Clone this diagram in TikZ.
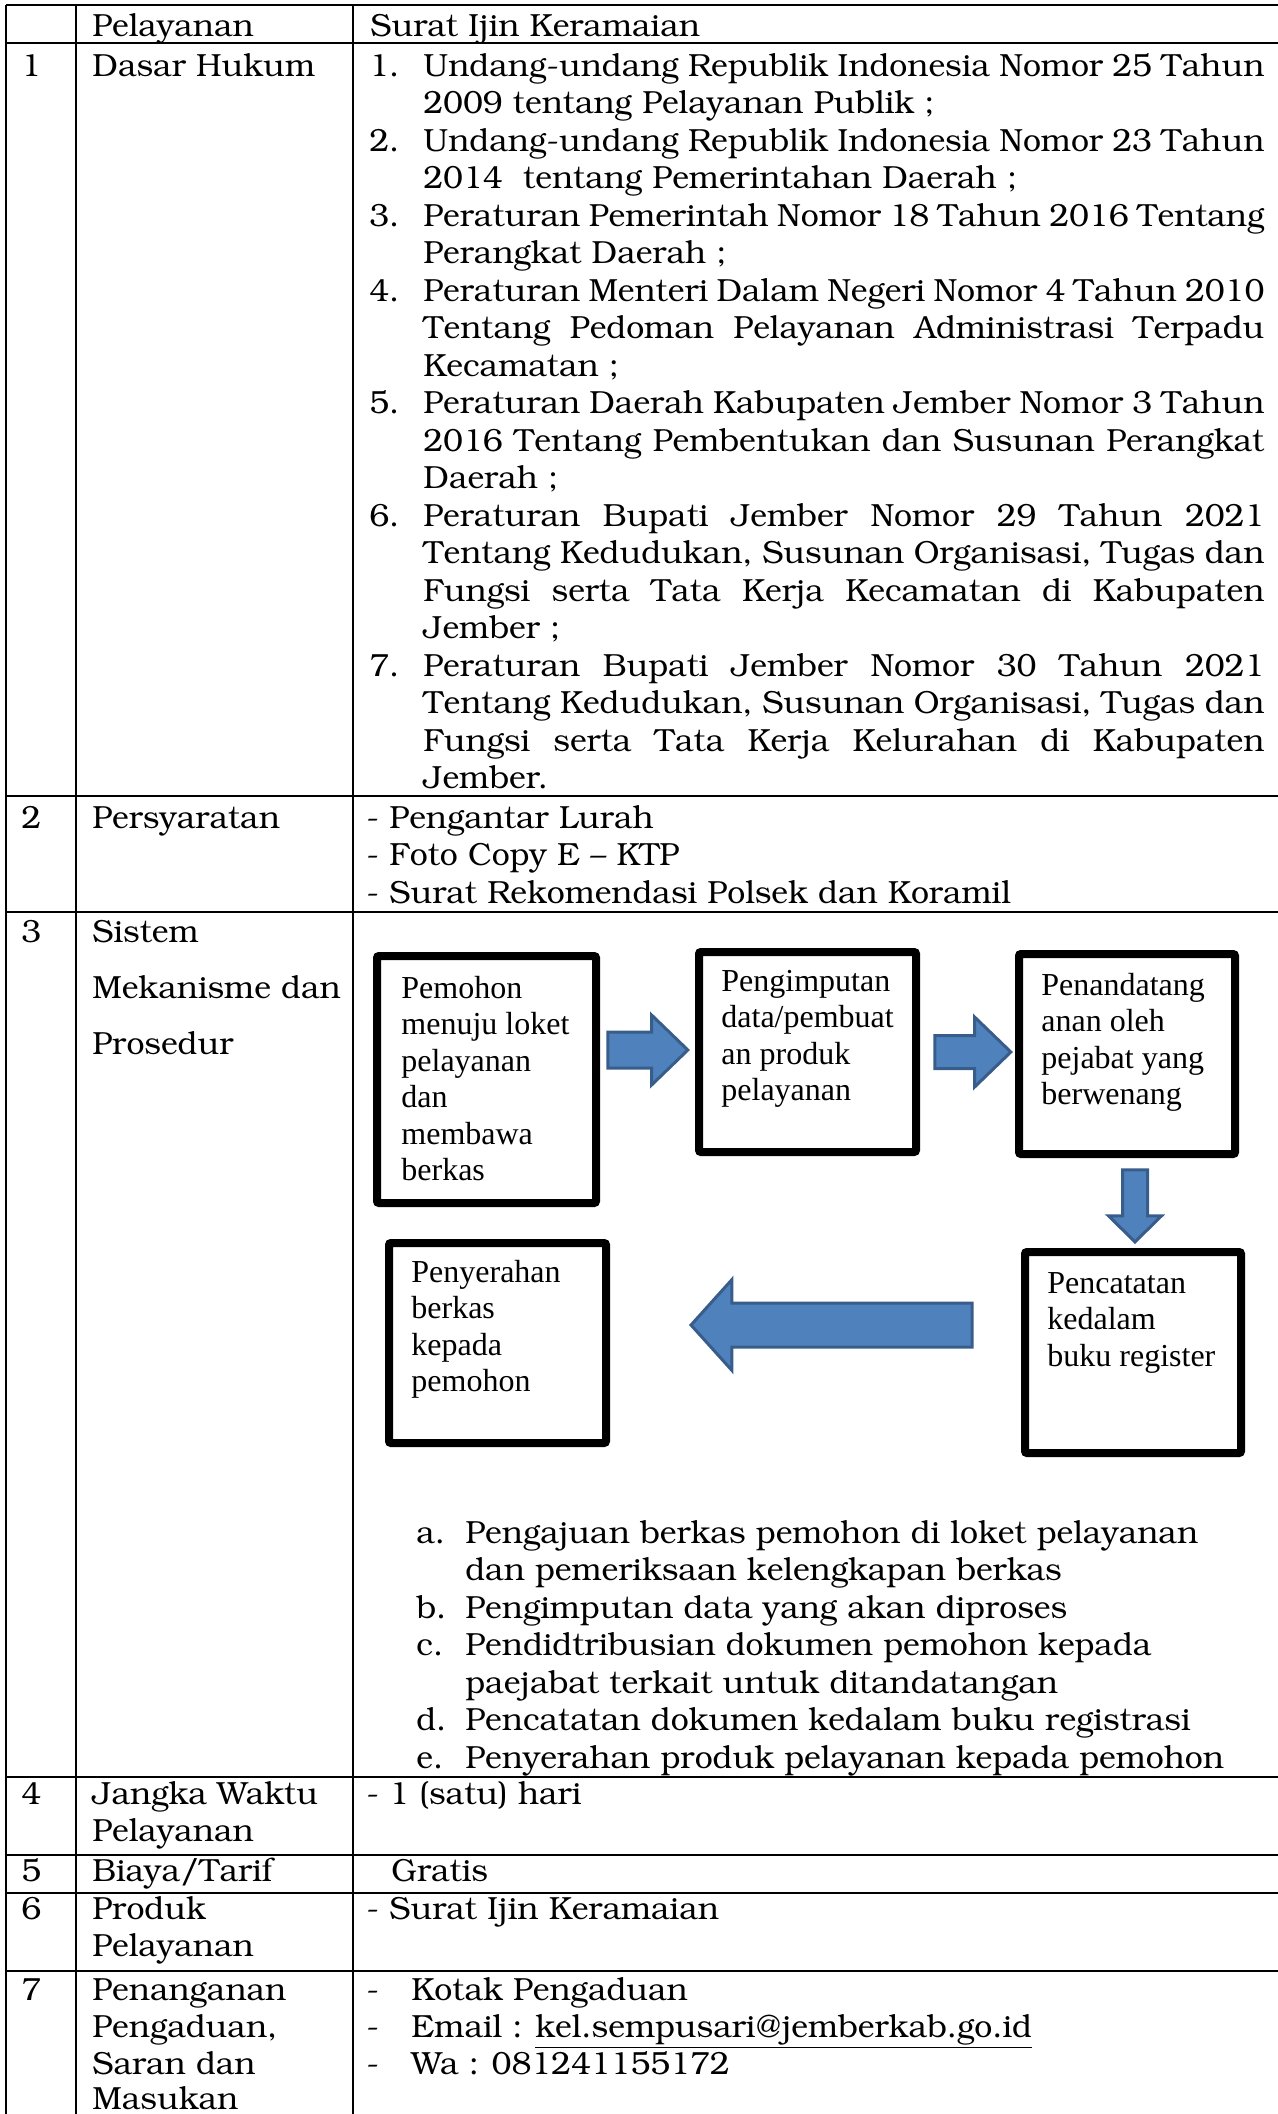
\documentclass[tikz,border=0pt]{standalone}
\usepackage[T1]{fontenc}
\usepackage{fontspec}
\usetikzlibrary{shapes.arrows}
\newfontfamily\tnr{Liberation Serif}
\newcommand{\bk}{\fontencoding{T1}\fontfamily{pbk}\fontseries{m}\fontshape{n}\fontsize{16}{18.75}\selectfont}
\newcommand{\jline}[1]{\makebox[420.5pt][s]{#1}}
\definecolor{arrowfill}{HTML}{4F81BD}
\definecolor{arrowline}{HTML}{385D8A}
\tikzset{
  cell/.style={anchor=base west, inner sep=0pt, font=\bk},
  flowbox/.style={draw=black, line width=4pt, rounded corners=1pt, fill=white},
  flowtext/.style={anchor=north west, inner sep=0pt, align=left, font=\tnr\fontsize{16}{18.25}\selectfont},
  blockarrow/.style={single arrow, anchor=tip, fill=arrowfill, draw=arrowline, line width=1.5pt, inner xsep=0pt},
}
\begin{document}
\begin{tikzpicture}[x=0.5pt, y=-0.5pt]

\def\RULECOLOR{black}
\def\RULEWIDTH{1.25pt}
	\useasboundingbox (0,0) rectangle (1278,2114);
	\draw[\RULECOLOR, line width=\RULEWIDTH] (6,5) -- (1278,5);
	\draw[\RULECOLOR, line width=\RULEWIDTH] (6,43) -- (1278,43);
	\draw[\RULECOLOR, line width=\RULEWIDTH] (6,796) -- (1278,796);
	\draw[\RULECOLOR, line width=\RULEWIDTH] (6,912) -- (1278,912);
	\draw[\RULECOLOR, line width=\RULEWIDTH] (6,1777) -- (1278,1777);
	\draw[\RULECOLOR, line width=\RULEWIDTH] (6,1855) -- (1278,1855);
	\draw[\RULECOLOR, line width=\RULEWIDTH] (6,1893) -- (1278,1893);
	\draw[\RULECOLOR, line width=\RULEWIDTH] (6,1971) -- (1278,1971);
	\draw[\RULECOLOR, line width=\RULEWIDTH] (6,5) -- (6,2114);
	\draw[\RULECOLOR, line width=\RULEWIDTH] (76,5) -- (76,2114);
	\draw[\RULECOLOR, line width=\RULEWIDTH] (353,5) -- (353,2114);

	\node[cell] (h1) at (92,37) {Pelayanan};
	\node[cell] (h2) at (370,37) {Surat Ijin Keramaian};

	\node[cell] (n1) at (21,76) {1};
	\node[cell] (k1) at (92,76) {Dasar Hukum};
	\node[cell] (dn1) at (369,76) {1.};
	\node[cell] (d1) at (423,76) {\jline{Undang-undang Republik Indonesia Nomor 25 Tahun}};
	\node[cell] (d2) at (423,113.5) {2009 tentang Pelayanan Publik ;};
	\node[cell] (dn2) at (369,151) {2.};
	\node[cell] (d3) at (423,151) {\jline{Undang-undang Republik Indonesia Nomor 23 Tahun}};
	\node[cell] (d4) at (423,188.5) {2014\ \ tentang Pemerintahan Daerah ;};
	\node[cell] (dn3) at (369,226) {3.};
	\node[cell] (d5) at (423,226) {\jline{Peraturan Pemerintah Nomor 18 Tahun 2016 Tentang}};
	\node[cell] (d6) at (423,263.5) {Perangkat Daerah ;};
	\node[cell] (dn4) at (369,301) {4.};
	\node[cell] (d7) at (423,301) {\jline{Peraturan Menteri Dalam Negeri Nomor 4 Tahun 2010}};
	\node[cell] (d8) at (423,338.5) {\jline{Tentang Pedoman Pelayanan Administrasi Terpadu}};
	\node[cell] (d9) at (423,376) {Kecamatan ;};
	\node[cell] (dn5) at (369,413.5) {5.};
	\node[cell] (d10) at (423,413.5) {\jline{Peraturan Daerah Kabupaten Jember Nomor 3 Tahun}};
	\node[cell] (d11) at (423,451) {\jline{2016 Tentang Pembentukan dan Susunan Perangkat}};
	\node[cell] (d12) at (423,488.5) {Daerah ;};
	\node[cell] (dn6) at (369,526) {6.};
	\node[cell] (d13) at (423,526) {\jline{Peraturan Bupati Jember Nomor 29 Tahun 2021}};
	\node[cell] (d14) at (423,563.5) {\jline{Tentang Kedudukan, Susunan Organisasi, Tugas dan}};
	\node[cell] (d15) at (423,601) {\jline{Fungsi serta Tata Kerja Kecamatan di Kabupaten}};
	\node[cell] (d16) at (423,638.5) {Jember ;};
	\node[cell] (dn7) at (369,676) {7.};
	\node[cell] (d17) at (423,676) {\jline{Peraturan Bupati Jember Nomor 30 Tahun 2021}};
	\node[cell] (d18) at (423,713.5) {\jline{Tentang Kedudukan, Susunan Organisasi, Tugas dan}};
	\node[cell] (d19) at (423,751) {\jline{Fungsi serta Tata Kerja Kelurahan di Kabupaten}};
	\node[cell] (d20) at (423,788.5) {Jember.};

	\node[cell] (n2) at (21,828) {2};
	\node[cell] (k2) at (92,828) {Persyaratan};
	\node[cell] (p1) at (366,828) {- Pengantar Lurah};
	\node[cell] (p2) at (366,865.5) {- Foto Copy E -- KTP};
	\node[cell] (p3) at (366,903) {- Surat Rekomendasi Polsek dan Koramil};

	\node[cell] (n3) at (21,942) {3};
	\node[cell] (k3a) at (92,942) {Sistem};
	\node[cell] (k3b) at (92,998) {Mekanisme dan};
	\node[cell] (k3c) at (92,1054) {Prosedur};

	\node[flowbox, minimum width=109.5pt, minimum height=123.5pt] (b1) at (486.5,1079.5) {};
	\node[flowbox, minimum width=108.5pt, minimum height=100pt] (b2) at (807.5,1052) {};
	\node[flowbox, minimum width=108pt, minimum height=100pt] (b3) at (1127,1054) {};
	\node[flowbox, minimum width=108pt, minimum height=100.5pt] (b4) at (1133,1352.5) {};
	\node[flowbox, minimum width=108.5pt, minimum height=100pt] (b5) at (497.5,1343) {};
	\node[flowtext] (t1) at (401,972.5) {\strut Pemohon\\menuju loket\\pelayanan\\dan\\membawa\\berkas};
	\node[flowtext] (t2) at (721,965.5) {\strut Pengimputan\\data/pembuat\\an produk\\pelayanan};
	\node[flowtext] (t3) at (1041,969.5) {\strut Penandatang\\anan oleh\\pejabat yang\\berwenang};
	\node[flowtext] (t4) at (1047,1267.5) {\strut Pencatatan\\kedalam\\buku register};
	\node[flowtext] (t5) at (411,1256.5) {\strut Penyerahan\\berkas\\kepada\\pemohon};

	\node[blockarrow, minimum height=40pt, minimum width=33.5pt, inner ysep=8.25pt, single arrow head extend=8.5pt, single arrow tip angle=88] (arr1) at (690,1050) {};
	\node[blockarrow, minimum height=38pt, minimum width=33.5pt, inner ysep=7.5pt, single arrow head extend=9.25pt, single arrow tip angle=88] (arr2) at (1013,1052) {};
	\node[blockarrow, rotate=-90, minimum height=36pt, minimum width=25pt, inner ysep=5.5pt, single arrow head extend=7pt, single arrow tip angle=91] (arr3) at (1135,1244) {};
	\node[blockarrow, rotate=180, minimum height=140.5pt, minimum width=44pt, inner ysep=10.25pt, single arrow head extend=11.75pt, single arrow tip angle=96] (arr4) at (689,1325) {};

	\node[cell] (la) at (416,1543) {a.};
	\node[cell] (ma) at (465,1543) {Pengajuan berkas pemohon di loket pelayanan};
	\node[cell] (ma2) at (465,1580.5) {dan pemeriksaan kelengkapan berkas};
	\node[cell] (lb) at (416,1618) {b.};
	\node[cell] (mb) at (465,1618) {Pengimputan data yang akan diproses};
	\node[cell] (lc) at (416,1655.5) {c.};
	\node[cell] (mc) at (465,1655.5) {Pendidtribusian dokumen pemohon kepada};
	\node[cell] (mc2) at (465,1693) {paejabat terkait untuk ditandatangan};
	\node[cell] (ld) at (416,1730.5) {d.};
	\node[cell] (md) at (465,1730.5) {Pencatatan dokumen kedalam buku registrasi};
	\node[cell] (le) at (416,1768) {e.};
	\node[cell] (me) at (465,1768) {Penyerahan produk pelayanan kepada pemohon};

	\node[cell] (n4) at (21,1804) {4};
	\node[cell] (k4a) at (92,1804) {Jangka Waktu};
	\node[cell] (k4b) at (92,1841) {Pelayanan};
	\node[cell] (v4) at (366,1804) {- 1 (satu) hari};

	\node[cell] (n5) at (21,1881) {5};
	\node[cell] (k5) at (92,1881) {Biaya/Tarif};
	\node[cell] (v5) at (391,1881) {Gratis};

	\node[cell] (n6) at (21,1919) {6};
	\node[cell] (k6a) at (92,1919) {Produk};
	\node[cell] (k6b) at (92,1956) {Pelayanan};
	\node[cell] (v6) at (366,1919) {- Surat Ijin Keramaian};

	\node[cell] (n7) at (21,2000) {7};
	\node[cell] (k7a) at (92,2000) {Penanganan};
	\node[cell] (k7b) at (92,2037) {Pengaduan,};
	\node[cell] (k7c) at (92,2074) {Saran dan};
	\node[cell] (k7d) at (92,2109) {Masukan};
	\node[cell] (q1) at (366,2000) {-};
	\node[cell] (r1) at (411,2000) {Kotak Pengaduan};
	\node[cell] (q2) at (366,2037) {-};
	\node[cell] (r2) at (411,2037) {Email : \underline{kel.sempusari@jemberkab.go.id}};
	\node[cell] (q3) at (366,2074) {-};
	\node[cell] (r3) at (411,2074) {Wa : 081241155172};

          \end{tikzpicture}
\end{document}
